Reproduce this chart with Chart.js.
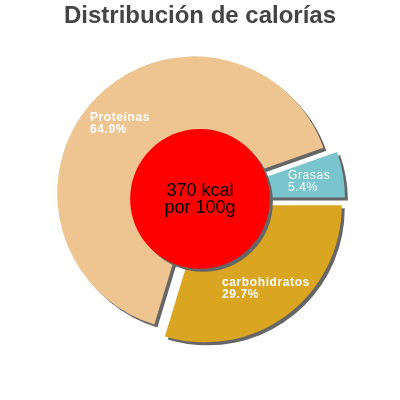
<!DOCTYPE html>
<html>
<head>
<meta charset="utf-8">
<script src="https://cdn.jsdelivr.net/npm/chart.js@4.4.1/dist/chart.umd.min.js"></script>
<style>
  html,body{margin:0;padding:0;background:#fff}
  #wrap{width:400px;height:400px}
</style>
</head>
<body>
<div id="wrap"><canvas id="c" width="400" height="400"></canvas></div>
<script>
// === data ===
const categories  = ["carbohidratos", "Proteínas", "Grasas"];
const shares      = [29.7, 64.9, 5.4];          // % of calories
const energyKcal  = 370;
const centerLines = [`${energyKcal} kcal`, "por 100g"];
const chartTitle  = "Distribución de calorías";

// === look ===
const sliceColors = ["#daa520", "#eec591", "#7ac5cd"];
const labelBold   = [true, true, false];
const EXPLODE = 8, SHADOW = 3, SHADOW_COLOR = "#666";
const FONT = "'Liberation Sans', Arial, sans-serif";

// exploded slices + drop shadow, then the red disc and the labels
const explodePlugin = {
  id: "explode",
  beforeDatasetDraw(chart, args){
    const ctx = chart.ctx;
    const arcs = args.meta.data;
    // all shadows first so the slices sit on top of them
    ctx.save();
    ctx.fillStyle = SHADOW_COLOR;
    arcs.forEach(a=>{
      const mid = (a.startAngle + a.endAngle)/2;
      const cx = a.x + Math.cos(mid)*EXPLODE + SHADOW;
      const cy = a.y + Math.sin(mid)*EXPLODE + SHADOW;
      ctx.beginPath(); ctx.moveTo(cx, cy);
      ctx.arc(cx, cy, a.outerRadius, a.startAngle, a.endAngle);
      ctx.closePath(); ctx.fill();
    });
    ctx.restore();
    arcs.forEach(a=>{
      const mid = (a.startAngle + a.endAngle)/2;
      ctx.save();
      ctx.translate(Math.cos(mid)*EXPLODE, Math.sin(mid)*EXPLODE);
      a.draw(ctx);
      ctx.restore();
    });
    return false;
  },
  afterDatasetsDraw(chart){
    const ctx = chart.ctx;
    const arcs = chart.getDatasetMeta(0).data;
    const {x, y, outerRadius} = arcs[0];
    const r = outerRadius*0.51;

    // red disc with its shadow
    ctx.save();
    ctx.fillStyle = SHADOW_COLOR;
    ctx.beginPath(); ctx.arc(x+SHADOW, y+SHADOW, r, 0, Math.PI*2); ctx.fill();
    ctx.fillStyle = "#ff0000";
    ctx.beginPath(); ctx.arc(x, y, r, 0, Math.PI*2); ctx.fill();
    ctx.fillStyle = "#000";
    ctx.font = `18px ${FONT}`;
    ctx.textAlign = "center";
    ctx.textBaseline = "alphabetic";
    ctx.fillText(centerLines[0], x, y - 3);
    ctx.fillText(centerLines[1], x, y + 14);
    ctx.restore();

    // slice labels, left aligned block centred on the slice's mid angle
    ctx.save();
    ctx.fillStyle = "#fff";
    ctx.textAlign = "left";
    ctx.textBaseline = "alphabetic";
    if ("letterSpacing" in ctx) ctx.letterSpacing = "0.6px";
    arcs.forEach((a, i)=>{
      const mid = (a.startAngle + a.endAngle)/2;
      const d = EXPLODE + a.outerRadius*0.75;
      const lx = a.x + Math.cos(mid)*d, ly = a.y + Math.sin(mid)*d;
      ctx.font = `${labelBold[i] ? "bold " : ""}12px ${FONT}`;
      const lines = [categories[i], shares[i].toFixed(1) + "%"];
      const w = Math.max(...lines.map(t=>ctx.measureText(t).width));
      ctx.fillText(lines[0], lx - w/2, ly - 1.5);
      ctx.fillText(lines[1], lx - w/2, ly + 10.5);
    });
    ctx.restore();
  }
};

new Chart(document.getElementById("c"), {
  type: "pie",
  data: {
    labels: categories,
    datasets: [{ data: shares, backgroundColor: sliceColors, borderWidth: 0 }]
  },
  options: {
    responsive: false,
    animation: false,
    rotation: 90,
    radius: 137,
    layout: { padding: { bottom: 33 } },
    plugins: {
      legend: { display: false },
      tooltip: { enabled: false },
      title: {
        display: true, text: chartTitle, color: "#444",
        font: { family: FONT, size: 24, weight: "bold" },
        padding: { top: 2, bottom: 0 }
      }
    }
  },
  plugins: [explodePlugin]
});
</script>
</body>
</html>
